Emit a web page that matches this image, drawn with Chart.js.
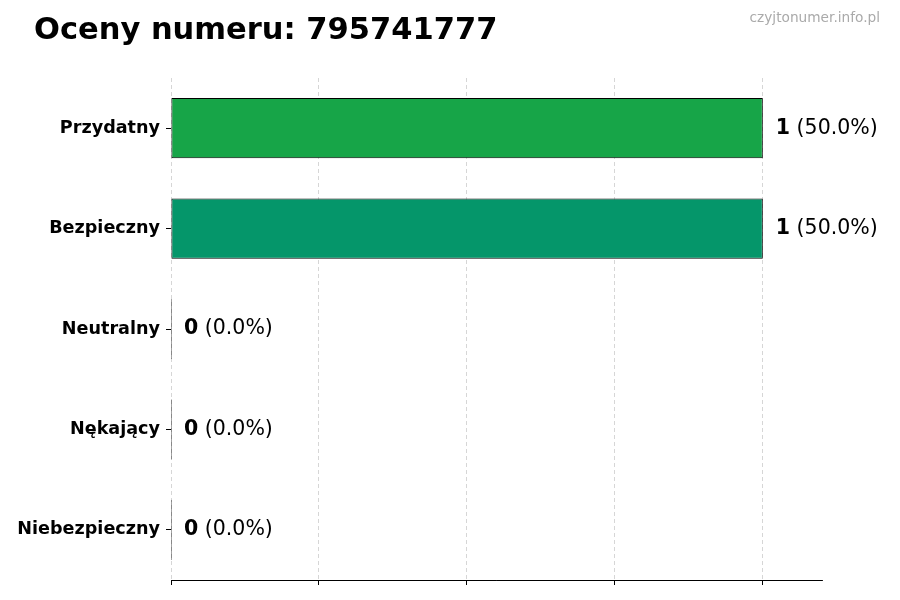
<!DOCTYPE html>
<html>
<head>
<meta charset="utf-8">
<script src="https://cdn.jsdelivr.net/npm/chart.js@4"></script>
<style>
  html, body { margin: 0; padding: 0; background: #fff; }
  #box { width: 900px; height: 600px; position: relative; }
</style>
</head>
<body>
<div id="box"><canvas id="wykres"></canvas></div>
<script>
// dane z wykresu
var kategorie = ["Przydatny", "Bezpieczny", "Neutralny", "Nękający", "Niebezpieczny"];
var liczby = [1, 1, 0, 0, 0];
var kolory = ["#17a548", "#05966a", "#9e9e9e", "#e8833a", "#d7301f"];
var tytul = "Oceny numeru: 795741777";
var znak = "czyjtonumer.info.pl";

var suma = liczby.reduce(function (a, b) { return a + b; }, 0);

// tytuł i znak wodny
var naglowek = {
    id: "naglowek",
    afterDraw: function (chart) {
        var ctx = chart.ctx;
        ctx.save();
        ctx.textBaseline = "middle";
        ctx.fillStyle = "#000";
        ctx.font = "bold 30.5px 'DejaVu Sans'";
        ctx.textAlign = "left";
        ctx.fillText(tytul, 34, 31);
        ctx.fillStyle = "#aaaaaa";
        ctx.font = "13.7px 'DejaVu Sans'";
        ctx.textAlign = "right";
        ctx.fillText(znak, 880, 18);
        ctx.restore();
    }
};

// etykiety wartości przy słupkach
var etykiety = {
    id: "etykiety",
    afterDatasetsDraw: function (chart) {
        var ctx = chart.ctx;
        var meta = chart.getDatasetMeta(0);
        ctx.save();
        ctx.textBaseline = "middle";
        ctx.textAlign = "left";
        ctx.fillStyle = "#000";
        meta.data.forEach(function (bar, i) {
            var x0 = chart.scales.x.getPixelForValue(liczby[i]) + 13;
            var y = bar.y;
            var proc = suma ? (liczby[i] / suma * 100) : 0;
            ctx.font = "bold 20.5px 'DejaVu Sans'";
            var mocne = String(liczby[i]);
            ctx.fillText(mocne, x0, y);
            var w = ctx.measureText(mocne).width;
            ctx.font = "20.5px 'DejaVu Sans'";
            ctx.fillText(" (" + proc.toFixed(1) + "%)", x0 + w, y);
        });
        ctx.restore();
    }
};

new Chart(document.getElementById("wykres").getContext("2d"), {
    type: "bar",
    data: {
        labels: kategorie,
        datasets: [{
            data: liczby,
            backgroundColor: kolory,
            borderColor: "#000",
            borderWidth: 1,
            borderSkipped: false,
            minBarLength: 1,
            barPercentage: 0.6,
            categoryPercentage: 1.0
        }]
    },
    options: {
        indexAxis: "y",
        responsive: true,
        maintainAspectRatio: false,
        animation: false,
        layout: { padding: { top: 78, right: 78, bottom: 0, left: 0 } },
        plugins: {
            legend: { display: false },
            tooltip: { enabled: false }
        },
        scales: {
            x: {
                min: 0,
                max: 1.1,
                z: 1,
                afterFit: function (s) { s.height = 20; },
                ticks: {
                    stepSize: 0.25,
                    includeBounds: false,
                    callback: function () { return ""; }
                },
                grid: {
                    color: "rgba(160,160,160,0.55)",
                    lineWidth: 0.8,
                    tickColor: "#000",
                    tickLength: 5,
                    tickWidth: 1
                },
                border: { display: true, color: "#000", width: 1, dash: [4, 3] }
            },
            y: {
                afterFit: function (s) { s.width = 171; },
                ticks: {
                    color: "#000",
                    padding: 6,
                    font: { family: "DejaVu Sans", size: 17.6, weight: "bold" }
                },
                grid: {
                    offset: false,
                    drawOnChartArea: false,
                    tickColor: "#000",
                    tickLength: 5
                },
                border: { display: false }
            }
        }
    },
    plugins: [naglowek, etykiety]
});
</script>
</body>
</html>
